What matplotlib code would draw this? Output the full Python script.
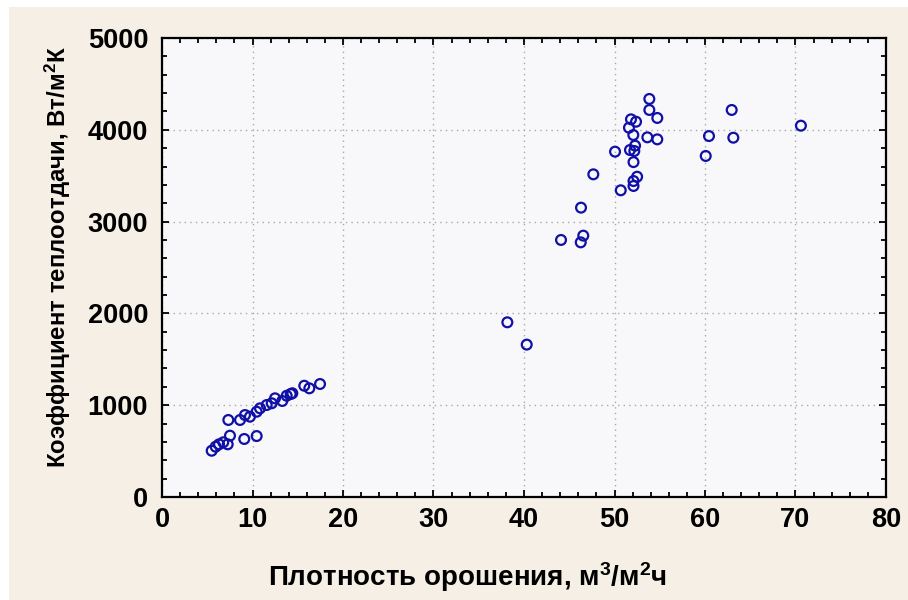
import matplotlib
matplotlib.use("Agg")
import matplotlib.pyplot as plt
from matplotlib.patches import Rectangle
from matplotlib.ticker import MultipleLocator

plt.rcParams['font.family'] = ['Liberation Sans', 'DejaVu Sans']
plt.rcParams['mathtext.fontset'] = 'custom'
plt.rcParams['mathtext.rm'] = 'Liberation Sans:bold'
plt.rcParams['mathtext.bf'] = 'Liberation Sans:bold'
plt.rcParams['mathtext.it'] = 'Liberation Sans:bold'

# Irrigation density, m3/(m2 h)
x_vals = [5.49, 5.93, 6.30, 6.77, 7.26, 7.51, 7.33, 8.62, 9.09, 9.17, 9.72,
          10.46, 10.46, 10.83, 11.57, 12.12, 12.49, 13.29, 13.78, 14.22, 14.40,
          15.72, 16.28, 17.46,
          38.16, 40.30,
          44.09, 46.27, 46.55, 46.30, 47.66, 50.06, 50.69, 52.10, 52.10, 52.50,
          52.10, 51.71, 52.19, 52.27, 51.60, 52.08, 51.82, 52.38, 53.63, 54.73,
          54.73, 53.85, 53.85, 60.08, 60.44, 62.95, 63.13, 70.60]
# Heat transfer coefficient, W/(m2 K)
y_vals = [504, 548, 574, 596, 574, 668, 839, 839, 632, 893, 875,
          929, 664, 966, 1002, 1021, 1075, 1046, 1103, 1122, 1130,
          1212, 1184, 1231,
          1903, 1660,
          2800, 2774, 2847, 3152, 3515, 3762, 3341, 3388, 3442, 3489,
          3648, 3780, 3769, 3827, 4023, 3943, 4114, 4088, 3918, 3896,
          4129, 4336, 4216, 3715, 3932, 4216, 3914, 4045]

x_ticks = [0, 10, 20, 30, 40, 50, 60, 70, 80]
y_ticks = [0, 1000, 2000, 3000, 4000, 5000]
x_label = 'Плотность орошения, м$^{3}$/м$^{2}$ч'
y_label = 'Коэффициент теплоотдачи, Вт/м$^{2}$К'

W, H = 908, 600
fig = plt.figure(figsize=(W / 100, H / 100), dpi=100, facecolor='white')
fig.patches.append(Rectangle((9 / W, 0), 1, 1 - 7 / H, transform=fig.transFigure,
                             facecolor='#F5EFE6', edgecolor='none', zorder=-10))

left, right, top, bottom = 162, 886, 38, 497
ax = fig.add_axes([left / W, 1 - bottom / H, (right - left) / W, (bottom - top) / H])
ax.set_facecolor('#F8F8FA')

ax.scatter(x_vals, y_vals, s=50, facecolors='none', edgecolors='#1010A8',
           linewidths=1.6, zorder=3)

ax.set_xlim(0, 80)
ax.set_ylim(0, 5000)
ax.set_xticks(x_ticks)
ax.set_yticks(y_ticks)
ax.xaxis.set_minor_locator(MultipleLocator(2))
ax.yaxis.set_minor_locator(MultipleLocator(200))

ax.grid(True, which='major', color='#A8A8A8', linestyle=(0, (1, 3)), linewidth=1.0)
ax.set_axisbelow(True)

for s in ax.spines.values():
    s.set_linewidth(1.6)
    s.set_color('black')

ax.tick_params(which='both', direction='in', top=True, right=True,
               width=1.3, color='black')
ax.tick_params(which='major', length=5)
ax.tick_params(which='minor', length=3.5)
ax.tick_params(axis='x', which='major', pad=7)
ax.tick_params(axis='y', which='major', pad=10)

for lab in ax.get_xticklabels() + ax.get_yticklabels():
    lab.set_fontsize(19.5)
    lab.set_fontweight('bold')

ax.set_xlabel(x_label, fontsize=20, fontweight='bold')
ax.set_ylabel(y_label, fontsize=17.3, fontweight='bold')
ax.xaxis.set_label_coords((467 - left) / (right - left), -(560 - bottom) / (bottom - top))
ax.yaxis.set_label_coords(-(left - 73) / (right - left), (bottom - 257) / (bottom - top))

fig.savefig('out.png', dpi=100, facecolor=fig.get_facecolor())
